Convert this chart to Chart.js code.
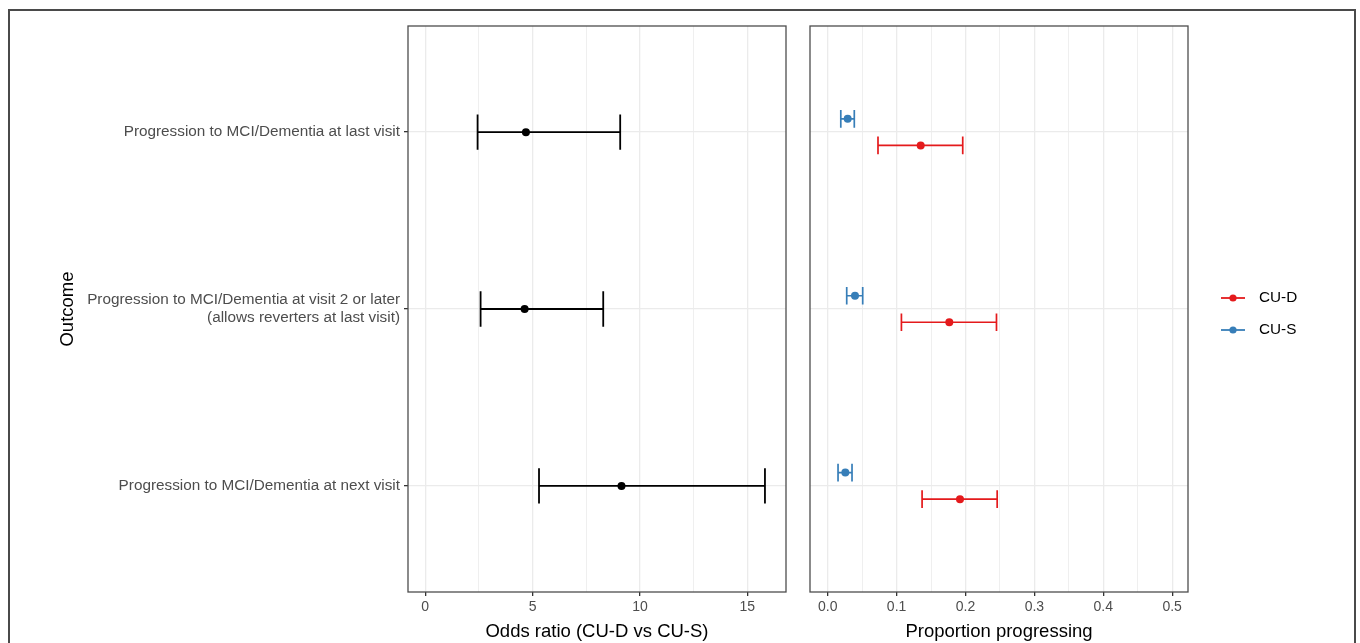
<!DOCTYPE html>
<html>
<head>
<meta charset="utf-8">
<script src="https://cdn.jsdelivr.net/npm/chart.js@4"></script>
<style>
  body { margin: 0; background: #fff; width: 1360px; height: 643px; overflow: hidden; position: relative; }
  #frame { position: absolute; left: 8px; top: 9px; width: 1348px; height: 700px; border: 2px solid #4a4a4a; box-sizing: border-box; }
  #left { position: absolute; left: 0; top: 0; }
  #right { position: absolute; left: 795px; top: 0; }
</style>
</head>
<body>
<div id="frame"></div>
<canvas id="left" width="795" height="643"></canvas>
<canvas id="right" width="565" height="643"></canvas>
<script>
// outcomes, bottom to top (ggplot discrete order)
const outcomes = [
  'Progression to MCI/Dementia at next visit',
  ['Progression to MCI/Dementia at visit 2 or later', '(allows reverters at last visit)'],
  'Progression to MCI/Dementia at last visit',
]
const rowPos = [1, 2, 3]

// odds ratio panel
const orEst = [9.14, 4.63, 4.69]
const orLow = [5.30, 2.58, 2.44]
const orHigh = [15.82, 8.29, 9.08]
const orTicks = [0, 2.5, 5, 7.5, 10, 12.5, 15]

// proportion panel
const groups = ['CU-D', 'CU-S']
const cudEst = [0.192, 0.1765, 0.135]
const cudLow = [0.137, 0.107, 0.073]
const cudHigh = [0.246, 0.245, 0.196]
const cusEst = [0.0256, 0.0396, 0.029]
const cusLow = [0.015, 0.0276, 0.019]
const cusHigh = [0.0353, 0.0508, 0.0386]
const propTicks = [0, 0.05, 0.1, 0.15, 0.2, 0.25, 0.3, 0.35, 0.4, 0.45, 0.5]

const RED = '#E41A1C'
const BLUE = '#377EB8'
const FONT = '"Liberation Sans", Arial, sans-serif'
const GRID = '#ebebeb'

Chart.defaults.font.family = FONT

// horizontal error bars with caps, drawn through the chart scales
const errorBars = {
  id: 'errorBars',
  beforeDatasetsDraw(chart) {
    const ctx = chart.ctx
    const xs = chart.scales.x
    const ys = chart.scales.y
    chart.data.datasets.forEach(ds => {
      ds.data.forEach((p, i) => {
        const y = ys.getPixelForValue(p.y)
        const x0 = xs.getPixelForValue(ds.low[i])
        const x1 = xs.getPixelForValue(ds.high[i])
        const c0 = ys.getPixelForValue(p.y - ds.cap)
        const c1 = ys.getPixelForValue(p.y + ds.cap)
        ctx.save()
        ctx.strokeStyle = ds.backgroundColor
        ctx.lineWidth = ds.barWidth
        ctx.beginPath()
        ctx.moveTo(x0, y); ctx.lineTo(x1, y)
        ctx.moveTo(x0, c0); ctx.lineTo(x0, c1)
        ctx.moveTo(x1, c0); ctx.lineTo(x1, c1)
        ctx.stroke()
        ctx.restore()
      })
    })
  },
  afterDraw(chart) {
    const a = chart.chartArea
    const ctx = chart.ctx
    ctx.save()
    ctx.strokeStyle = '#4d4d4d'
    ctx.lineWidth = 1.3
    ctx.strokeRect(a.left, a.top, a.right - a.left, a.bottom - a.top)
    ctx.restore()
  },
}

const isMajor = (v, step) => Math.abs(Math.round(v / step) * step - v) < 1e-9

function xAxis(ticks, step, fmt, title, min, max) {
  return {
    type: 'linear',
    min: min,
    max: max,
    afterBuildTicks: s => { s.ticks = ticks.map(v => ({ value: v })) },
    afterFit: s => { s.height = 51 },
    border: { display: false },
    grid: {
      color: GRID,
      lineWidth: c => (c.tick && isMajor(c.tick.value, step) ? 1.3 : 0.8),
      tickColor: c => (c.tick && isMajor(c.tick.value, step) ? '#333' : 'rgba(0,0,0,0)'),
      tickLength: 4,
    },
    ticks: {
      color: '#4d4d4d',
      font: { size: 14 },
      padding: 3,
      maxRotation: 0,
      autoSkip: false,
      callback: v => (isMajor(v, step) ? fmt(v) : ''),
    },
    title: { display: true, text: title, color: '#000', font: { size: 18.5 }, padding: { top: 0, bottom: 0 } },
  }
}

const leftConfig = {
  type: 'scatter',
  data: {
    datasets: [
      {
        label: 'OR',
        data: orEst.map((v, i) => ({ x: v, y: rowPos[i] })),
        low: orLow,
        high: orHigh,
        cap: 0.1,
        barWidth: 1.8,
        backgroundColor: '#000',
        pointRadius: 4,
        pointHoverRadius: 4,
        borderWidth: 0,
      },
    ],
  },
  options: {
    responsive: false,
    animation: false,
    devicePixelRatio: 1,
    layout: { padding: { top: 26, right: 9, left: 0, bottom: 0 } },
    plugins: { legend: { display: false }, tooltip: { enabled: false } },
    scales: {
      x: xAxis(orTicks, 5, v => String(v), 'Odds ratio (CU-D vs CU-S)', -0.8, 16.8),
      y: {
        type: 'linear',
        min: 0.4,
        max: 3.6,
        afterBuildTicks: s => { s.ticks = rowPos.map(v => ({ value: v })) },
        afterFit: s => { s.width = 408 },
        border: { display: false },
        grid: { color: GRID, lineWidth: 1.3, tickColor: '#333', tickLength: 4 },
        ticks: {
          color: '#4d4d4d',
          font: { size: 15.3, lineHeight: 1.2 },
          padding: 4,
          autoSkip: false,
          callback: (v, i) => outcomes[i],
        },
        title: { display: true, text: 'Outcome', color: '#000', font: { size: 18.5 }, padding: { top: 57, bottom: 0 } },
      },
    },
  },
  plugins: [errorBars],
}

// legend: line with a dot, ggplot style
const sideLegend = {
  id: 'sideLegend',
  afterDraw(chart) {
    const ctx = chart.ctx
    const x0 = chart.chartArea.right + 33
    const y0 = 298
    chart.data.datasets.forEach((ds, i) => {
      const y = y0 + i * 32
      ctx.save()
      ctx.strokeStyle = ds.backgroundColor
      ctx.fillStyle = ds.backgroundColor
      ctx.lineWidth = 1.8
      ctx.beginPath(); ctx.moveTo(x0, y); ctx.lineTo(x0 + 24, y); ctx.stroke()
      ctx.beginPath(); ctx.arc(x0 + 12, y, 3.6, 0, Math.PI * 2); ctx.fill()
      ctx.fillStyle = '#000'
      ctx.font = '15.3px ' + FONT
      ctx.textBaseline = 'middle'
      ctx.fillText(ds.label, x0 + 38, y)
      ctx.restore()
    })
  },
}

const dodge = 0.075

const rightConfig = {
  type: 'scatter',
  data: {
    datasets: [
      {
        label: groups[0],
        data: cudEst.map((v, i) => ({ x: v, y: rowPos[i] - dodge })),
        low: cudLow,
        high: cudHigh,
        cap: 0.05,
        barWidth: 1.7,
        backgroundColor: RED,
        pointRadius: 4,
        pointHoverRadius: 4,
        borderWidth: 0,
      },
      {
        label: groups[1],
        data: cusEst.map((v, i) => ({ x: v, y: rowPos[i] + dodge })),
        low: cusLow,
        high: cusHigh,
        cap: 0.05,
        barWidth: 1.7,
        backgroundColor: BLUE,
        pointRadius: 4,
        pointHoverRadius: 4,
        borderWidth: 0,
      },
    ],
  },
  options: {
    responsive: false,
    animation: false,
    devicePixelRatio: 1,
    layout: { padding: { top: 26, right: 172, left: 15, bottom: 0 } },
    plugins: { legend: { display: false }, tooltip: { enabled: false } },
    scales: {
      x: xAxis(propTicks, 0.1, v => v.toFixed(1), 'Proportion progressing', -0.0257, 0.523),
      y: {
        type: 'linear',
        min: 0.4,
        max: 3.6,
        afterBuildTicks: s => { s.ticks = rowPos.map(v => ({ value: v })) },
        afterFit: s => { s.width = 0 },
        border: { display: false },
        grid: { color: GRID, lineWidth: 1.3, drawTicks: false },
        ticks: { display: false },
      },
    },
  },
  plugins: [errorBars, sideLegend],
}

window.leftChart = new Chart(document.getElementById('left'), leftConfig)
window.rightChart = new Chart(document.getElementById('right'), rightConfig)
</script>
</body>
</html>
